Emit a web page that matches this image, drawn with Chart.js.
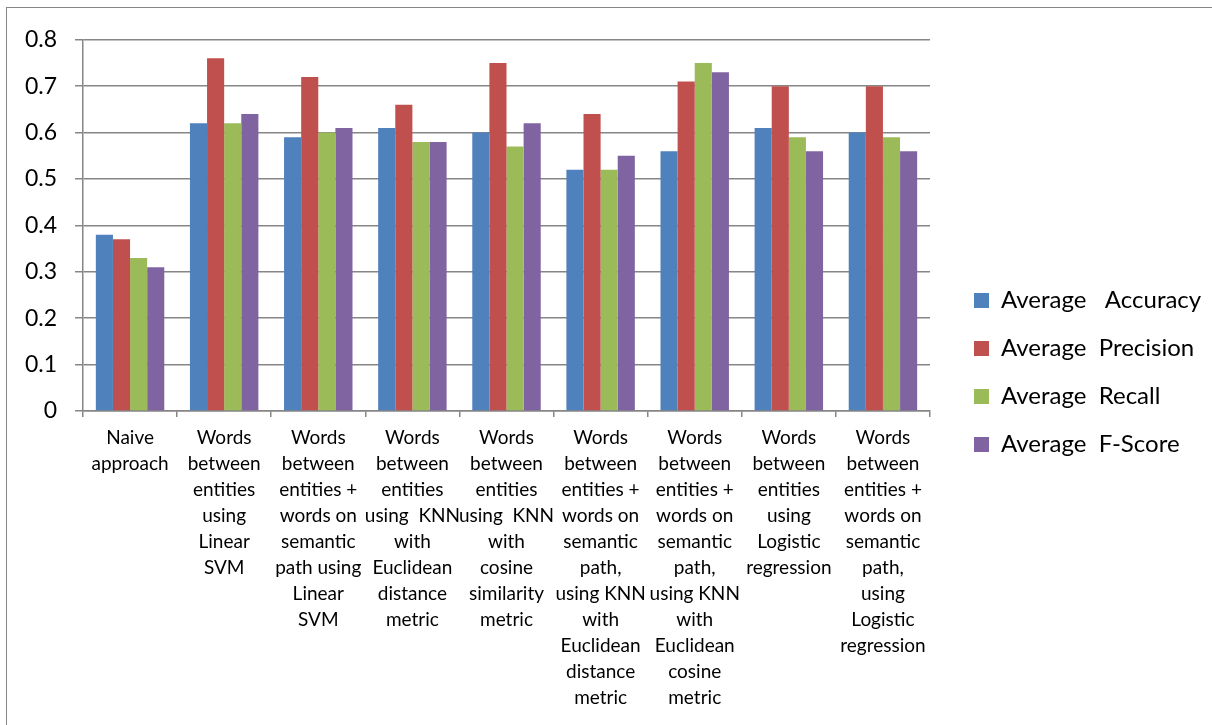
<!DOCTYPE html>
<html>
<head>
<meta charset="utf-8">
<script src="https://cdn.jsdelivr.net/npm/chart.js@4"></script>
<style>
  html, body { margin: 0; padding: 0; background: #fff; overflow: hidden; width: 1212px; height: 725px; }
  #frame { position: absolute; left: 6px; top: 7px; width: 1210px; height: 720px; border: 1px solid #868686; background: #fff; overflow: hidden; }
  #chart { display: block; }
</style>
</head>
<body>
<div id="frame"><canvas id="chart"></canvas></div>
<script>
// Category labels, one array of lines per method
const categories = [
  ["Naive", "approach"],
  ["Words", "between", "entities", "using", "Linear", "SVM"],
  ["Words", "between", "entities +", "words on", "semantic", "path using", "Linear", "SVM"],
  ["Words", "between", "entities", "using  KNN", "with", "Euclidean", "distance", "metric"],
  ["Words", "between", "entities", "using  KNN", "with", "cosine", "similarity", "metric"],
  ["Words", "between", "entities +", "words on", "semantic", "path,", "using KNN", "with", "Euclidean", "distance", "metric"],
  ["Words", "between", "entities +", "words on", "semantic", "path,", "using KNN", "with", "Euclidean", "cosine", "metric"],
  ["Words", "between", "entities", "using", "Logistic", "regression"],
  ["Words", "between", "entities +", "words on", "semantic", "path,", "using", "Logistic", "regression"]
];

const seriesNames = ["Average   Accuracy", "Average  Precision", "Average  Recall", "Average  F-Score"];

const accuracy  = [0.38, 0.62, 0.59, 0.61, 0.60, 0.52, 0.56, 0.61, 0.60];
const precision = [0.37, 0.76, 0.72, 0.66, 0.75, 0.64, 0.71, 0.70, 0.70];
const recall    = [0.33, 0.62, 0.60, 0.58, 0.57, 0.52, 0.75, 0.59, 0.59];
const fScore    = [0.31, 0.64, 0.61, 0.58, 0.62, 0.55, 0.73, 0.56, 0.56];

const yTicks = [0, 0.1, 0.2, 0.3, 0.4, 0.5, 0.6, 0.7, 0.8];

const colors = ["#4F81BD", "#C0504D", "#9BBB59", "#8064A2"];
const axisGray = "#868686";
const fontFamily = "Lato, 'Open Sans', 'DejaVu Sans', sans-serif";

const seriesValues = [accuracy, precision, recall, fScore];

// Canvas geometry
const canvasW = 1210, canvasH = 720;
const plotRight = 923;          // right edge of the plot area (canvas px)
const legendGap = 20;           // extra room between plot and legend column
const legendFontSize = 24, legendBox = 15, legendPad = 24;

// Width the legend box will claim: padding + box + half font + text, plus
// the fixed 10px Chart.js adds to vertical legends.
const measure = document.createElement("canvas").getContext("2d");
measure.font = legendFontSize + "px " + fontFamily;
const legendTextW = Math.max(...seriesNames.map(n => measure.measureText(n).width));
const legendW = legendPad + legendBox + legendFontSize / 2 + legendTextW + 10;
const padRight = Math.max(0, canvasW - plotRight - legendW);

// Push the legend column a little to the right of the plot area.
const legendShift = {
  id: "legendShift",
  afterLayout(chart) {
    const lg = chart.legend;
    if (lg) { lg.left += legendGap; lg.right += legendGap; }
  }
};

const cv = document.getElementById("chart");
cv.width = canvasW;
cv.height = canvasH;

new Chart(cv, {
  type: "bar",
  data: {
    labels: categories,
    datasets: seriesValues.map((vals, i) => ({
      label: seriesNames[i],
      data: vals,
      backgroundColor: colors[i],
      borderWidth: 0,
      categoryPercentage: 4 / 5.5,
      barPercentage: 1.0
    }))
  },
  plugins: [legendShift],
  options: {
    responsive: false,
    animation: false,
    events: [],
    layout: { padding: { top: 29, right: padRight, bottom: 20, left: 0 } },
    plugins: {
      tooltip: { enabled: false },
      legend: {
        position: "right",
        align: "center",
        labels: {
          boxWidth: legendBox,
          boxHeight: legendBox,
          padding: legendPad,
          color: "#000",
          font: { family: fontFamily, size: legendFontSize }
        }
      }
    },
    scales: {
      x: {
        offset: true,
        grid: {
          offset: true,
          drawOnChartArea: false,
          drawTicks: true,
          tickLength: 6,
          color: axisGray,
          lineWidth: 1.5
        },
        border: { display: true, color: axisGray, width: 1.5 },
        ticks: {
          autoSkip: false,
          maxRotation: 0,
          minRotation: 0,
          padding: 8,
          color: "#000",
          font: { family: fontFamily, size: 19, lineHeight: 26 / 19 }
        },
        afterFit: s => { s.height = 297; }
      },
      y: {
        min: 0,
        max: 0.8,
        afterBuildTicks: s => { s.ticks = yTicks.map(v => ({ value: v })); },
        grid: {
          color: axisGray,
          lineWidth: 1.5,
          drawTicks: true,
          tickLength: 8
        },
        border: { display: true, color: axisGray, width: 1.5 },
        ticks: {
          padding: 18,
          color: "#000",
          font: { family: fontFamily, size: 23 },
          callback: v => String(v)
        },
        afterFit: s => { s.width = 76; }
      }
    }
  }
});
</script>
</body>
</html>
